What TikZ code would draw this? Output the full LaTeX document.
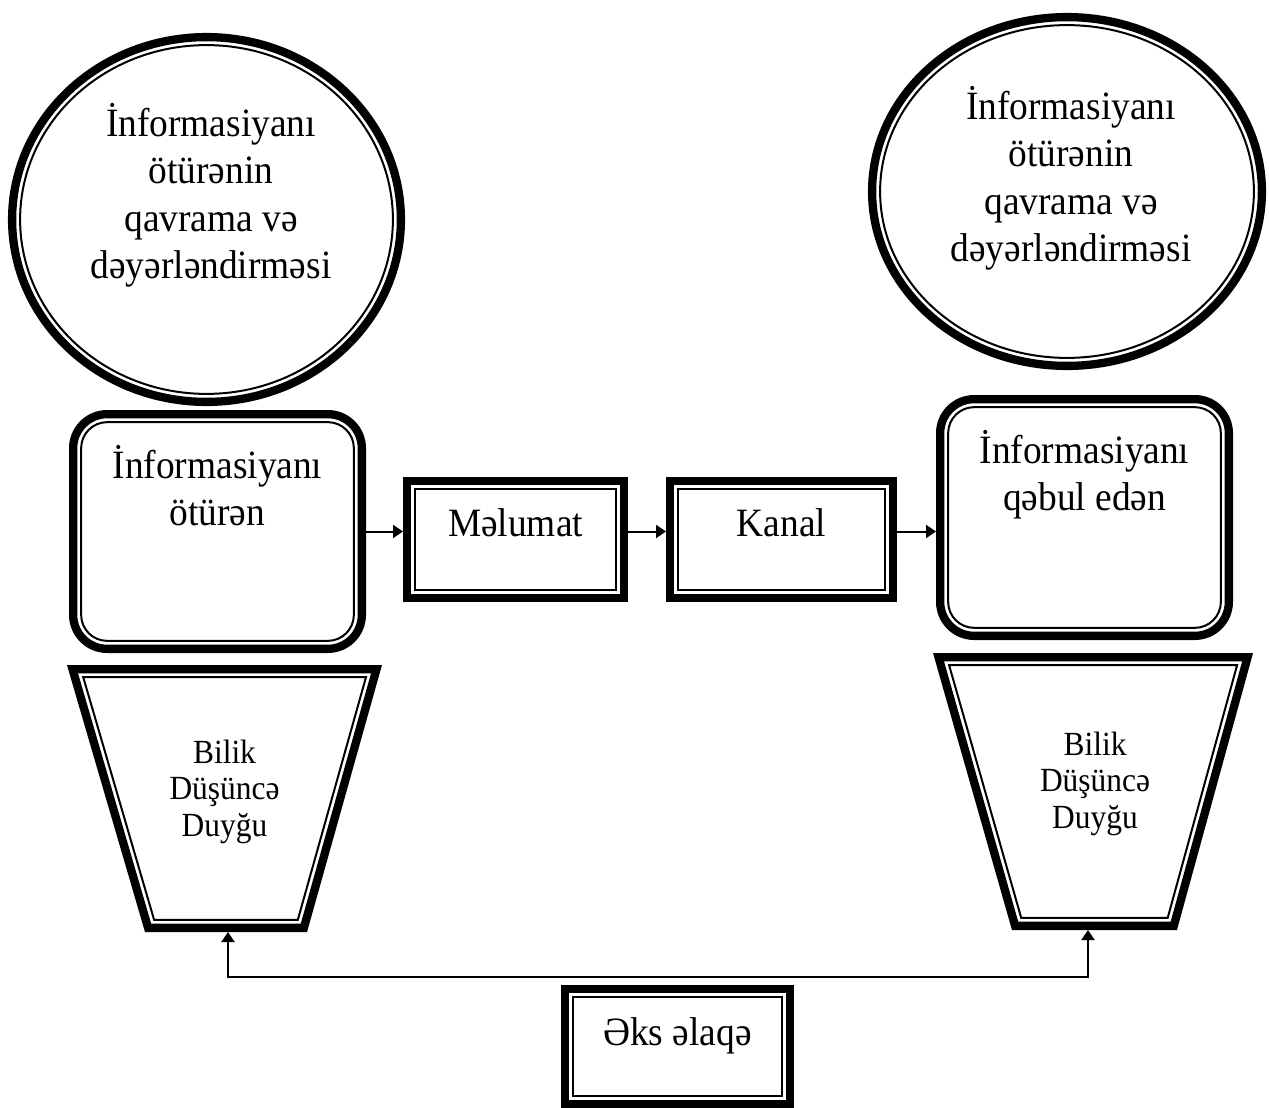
\documentclass[tikz,border=0pt]{standalone}
\usepackage{fontspec}
\setmainfont{Liberation Serif}[FakeStretch=0.93]
\usetikzlibrary{arrows.meta,shapes.geometric}
\begin{document}
\begin{tikzpicture}[x=1pt,y=-1pt,
  thickb/.style={draw=black, line width=8.3pt, fill=white},
  thinb/.style={draw=black, line width=2pt},
  bigtxt/.style={font=\fontsize{40.2}{47.5}\selectfont, align=center, inner sep=0pt},
  smalltxt/.style={font=\fontsize{33.8}{36.5}\selectfont, align=center, inner sep=0pt},
  conn/.style={draw=black, line width=2pt, -{Triangle[length=10pt,width=13pt]}},
  fbline/.style={draw=black, line width=2pt, {Triangle[length=10pt,width=13pt]}-{Triangle[length=10pt,width=13pt]}},
  boxA/.style={rectangle, thickb, inner sep=0pt},
  rbox/.style={rectangle, rounded corners=34pt, thickb, inner sep=0pt},
  ring/.style={ellipse, thickb, inner sep=0pt}
]
\useasboundingbox (0,0) rectangle (1269,1108);
\fill[white] (0,0) rectangle (1269,1108);

% circles
\node[ring, minimum width=388.8pt, minimum height=364.8pt] (c1) at (206.5,219.5) {};
\draw[thinb] (c1.center) ellipse [x radius=186.4pt, y radius=174.4pt];
\node[ring, minimum width=389.8pt, minimum height=348.8pt] (c2) at (1067,191.5) {};
\draw[thinb] (c2.center) ellipse [x radius=186.9pt, y radius=166.4pt];

% rounded boxes
\node[rbox, minimum width=288.7pt, minimum height=234.7pt] (s1) at (217.5,531.5) {};
\draw[thinb, rounded corners=26pt] ([shift={(12.15,12.15)}]s1.north west) rectangle ([shift={(-12.15,-12.15)}]s1.south east);
\node[rbox, minimum width=288.7pt, minimum height=236.7pt] (s2) at (1084.5,517.5) {};
\draw[thinb, rounded corners=26pt] ([shift={(12.15,12.15)}]s2.north west) rectangle ([shift={(-12.15,-12.15)}]s2.south east);

% square boxes
\node[boxA, minimum width=216.7pt, minimum height=116.7pt] (m) at (515.5,539.5) {};
\draw[thinb] ([shift={(12.15,12.15)}]m.north west) rectangle ([shift={(-12.15,-12.15)}]m.south east);
\node[boxA, minimum width=222.7pt, minimum height=116.7pt] (k) at (781.5,539.5) {};
\draw[thinb] ([shift={(12.15,12.15)}]k.north west) rectangle ([shift={(-12.15,-12.15)}]k.south east);
\node[boxA, minimum width=224.7pt, minimum height=114.7pt] (f) at (677.5,1046.5) {};
\draw[thinb] ([shift={(12.15,12.15)}]f.north west) rectangle ([shift={(-12.15,-12.15)}]f.south east);

% trapezoids
\draw[thickb] (72.5,669.15) -- (376.5,669.15) -- (303.9,927.85) -- (148.1,927.85) -- cycle;
\draw[thinb] (83.2,677.15) -- (366.0,677.15) -- (297.8,919.85) -- (154.1,919.85) -- cycle;
\draw[thickb] (938.5,657.15) -- (1247.6,657.15) -- (1173.8,925.85) -- (1015.1,925.85) -- cycle;
\draw[thinb] (949.1,665.15) -- (1237.1,665.15) -- (1167.7,917.85) -- (1021.2,917.85) -- cycle;
\coordinate (t1b) at (228,932);
\coordinate (t2b) at (1088,930);
\coordinate (fl) at (228,977);
\coordinate (fr) at (1088,977);

% texts
\node[bigtxt] (c1t) at (211,195) {İnformasiyanı\\ötürənin\\qavrama və\\dəyərləndirməsi};
\node[bigtxt] (c2t) at (1071,178) {İnformasiyanı\\ötürənin\\qavrama və\\dəyərləndirməsi};
\node[bigtxt] (s1t) at (217.5,485.5) {İnformasiyanı\\ötürən};
\node[bigtxt] (s2t) at (1084.5,474.7) {İnformasiyanı\\qəbul edən};
\node[bigtxt] (mt) at (515.5,522.4) {Məlumat};
\node[bigtxt] (kt) at (781.5,522.4) {Kanal};
\node[smalltxt] (t1t) at (224.5,791.8) {Bilik\\Düşüncə\\Duyğu};
\node[smalltxt] (t2t) at (1095,783.8) {Bilik\\Düşüncə\\Duyğu};
\node[bigtxt] (ft) at (677.5,1036) {Əks əlaqə};

% connectors
\draw[conn] (s1.east) -- (s1.east -| m.west);
\draw[conn] (m.east |- s1.east) -- (k.west |- s1.east);
\draw[conn] (k.east |- s1.east) -- (s2.west |- s1.east);
\draw[fbline] (t1b) -- (fl) -- (fr) -- (t2b);
\end{tikzpicture}
\end{document}
